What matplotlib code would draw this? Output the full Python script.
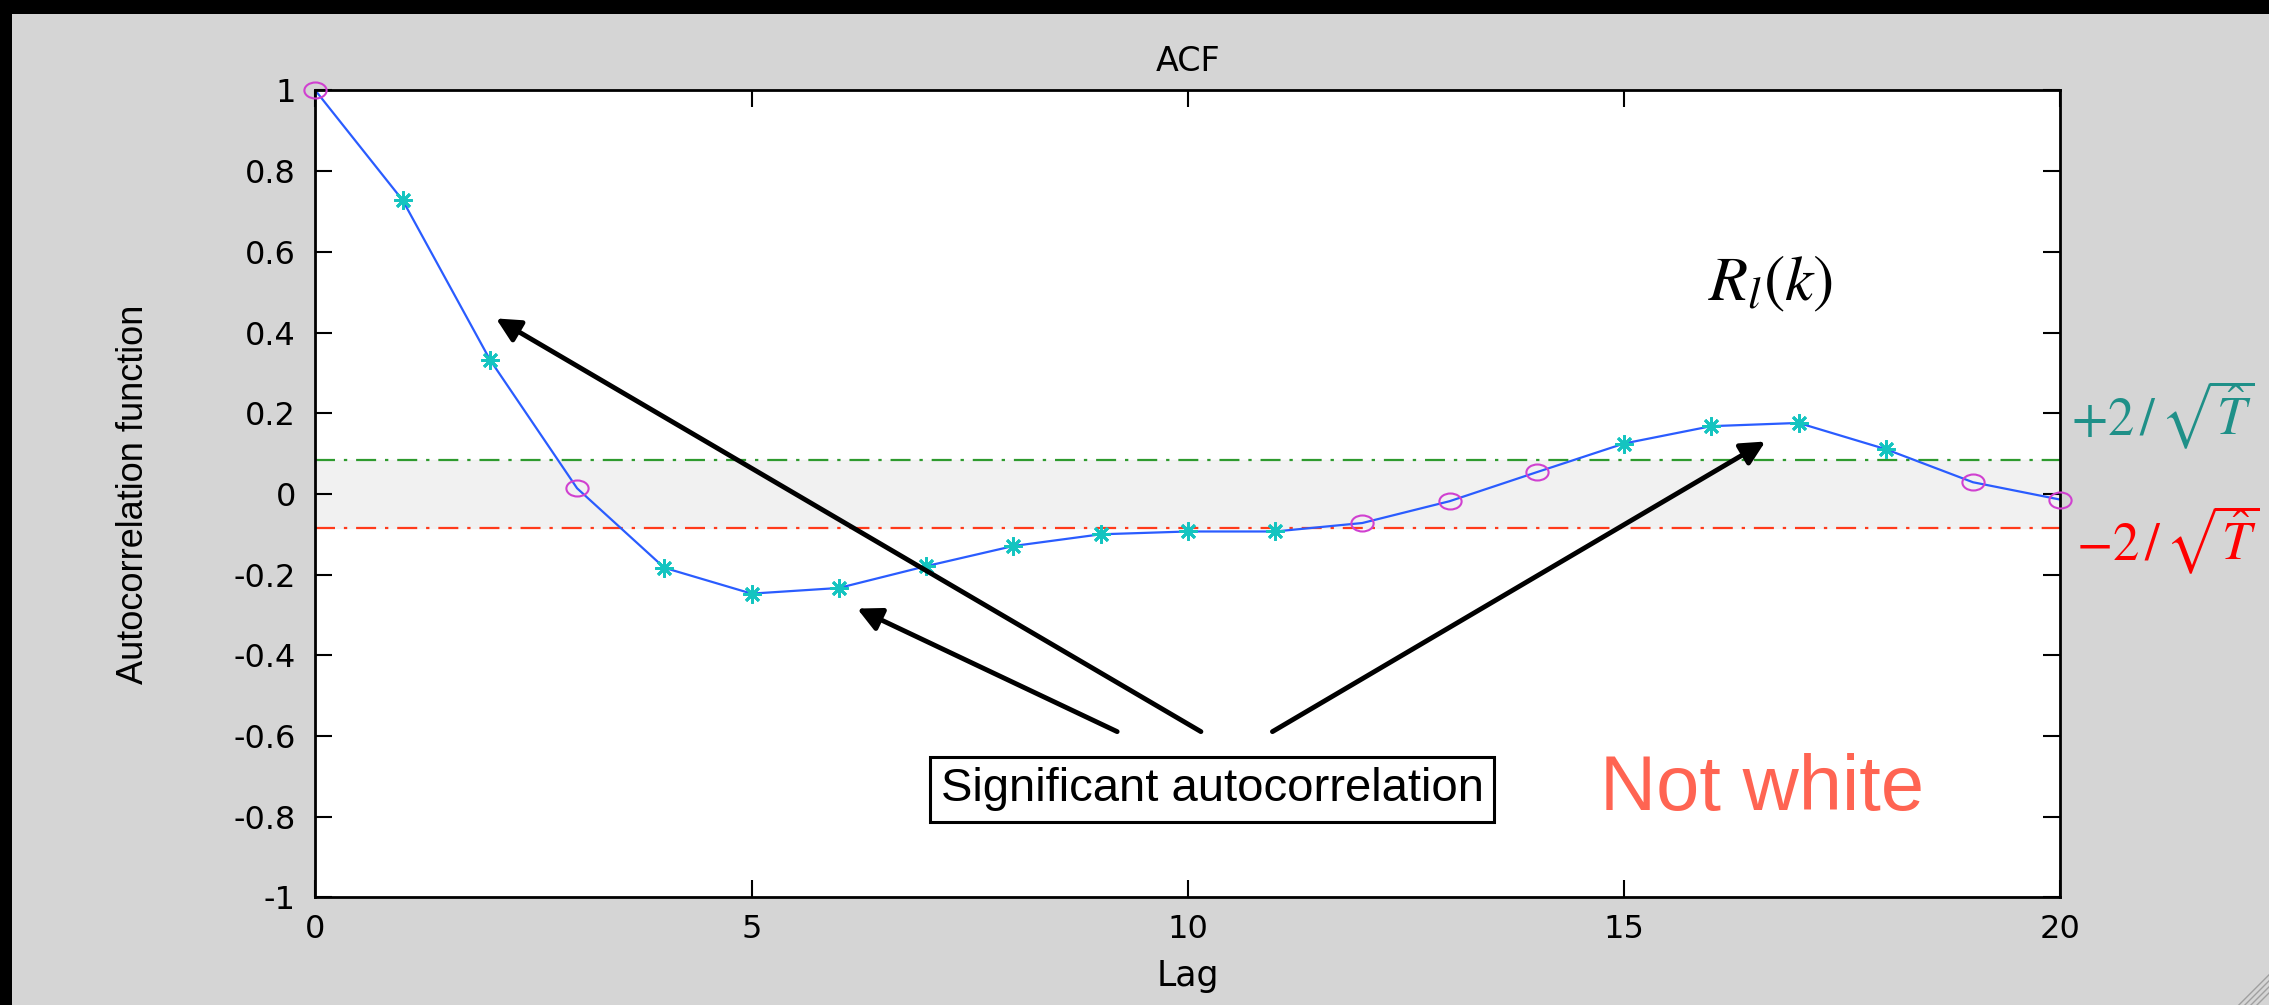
import matplotlib
matplotlib.use("Agg")
import matplotlib.pyplot as plt
from matplotlib.patches import Rectangle
from matplotlib.lines import Line2D
from matplotlib.path import Path
from matplotlib.transforms import Affine2D

plt.rcParams['axes.unicode_minus'] = False
plt.rcParams['mathtext.fontset'] = 'stix'

# data
lags = list(range(21))
acf = [1.0, 0.728, 0.333, 0.014, -0.183, -0.247, -0.233, -0.179, -0.129, -0.100,
       -0.093, -0.093, -0.072, -0.018, 0.054, 0.125, 0.168, 0.176, 0.111, 0.029, -0.014]
bound = 0.085
yticks = [-1, -0.8, -0.6, -0.4, -0.2, 0, 0.2, 0.4, 0.6, 0.8, 1]
ytick_labels = ['-1', '-0.8', '-0.6', '-0.4', '-0.2', '0', '0.2', '0.4', '0.6', '0.8', '1']
xticks = [0, 5, 10, 15, 20]

# arrows: (tail x, tail y, head x, head y) in data units
arrows = [(10.15, -0.589, 2.07, 0.435),
          (9.19, -0.589, 6.21, -0.284),
          (10.97, -0.589, 16.62, 0.130)]

gray = '#d5d5d5'
narrow = ['Liberation Sans', 'DejaVu Sans']

fig = plt.figure(figsize=(22.69, 10.05), dpi=100, facecolor='black')
fig.add_artist(Rectangle((12 / 2269, 0), 1, 1 - 14 / 1005, transform=fig.transFigure,
                         facecolor=gray, edgecolor='none', zorder=-5))
ax = fig.add_axes([0.139, 0.107, 0.769, 0.803])
ax.set_facecolor('white')

# band between the bounds
ax.axhspan(-bound, bound, color='#f1f1f1', zorder=0)
ax.axhline(bound, color='#2e9a2e', lw=1.6, ls=(0, (9, 4, 1.5, 4)), zorder=1)
ax.axhline(-bound, color='#ff3a1a', lw=1.6, ls=(0, (9, 4, 1.5, 4)), zorder=1)

ax.plot(lags, acf, color='#2a5cff', lw=1.6, zorder=2)

ellipse = Path.unit_circle().transformed(Affine2D().scale(1.0, 0.72))
inside = [i for i in lags if abs(acf[i]) < bound or i == 0]
outside = [i for i in lags if i not in inside]
ax.plot([lags[i] for i in inside], [acf[i] for i in inside], ls='none', marker=ellipse,
        ms=16, mfc='none', mec='#d040d0', mew=1.5, zorder=3, clip_on=False)
ax.plot([lags[i] for i in outside], [acf[i] for i in outside], ls='none', marker=(8, 2, 0),
        ms=13, mec='#14c4c0', mew=2.0, zorder=3)

ax.set_xlim(0, 20)
ax.set_ylim(-1, 1)
ax.set_xticks(xticks)
ax.set_yticks(yticks)
ax.set_yticklabels(ytick_labels)
ax.tick_params(direction='in', length=12, width=1.5, top=True, right=True,
               labelsize=23, colors='black')
ax.tick_params(axis='x', pad=12)
ax.tick_params(axis='y', pad=14)
for s in ax.spines.values():
    s.set_linewidth(2)

ax.set_title('ACF', fontsize=24, pad=14)
ax.set_xlabel('Lag', fontsize=25, labelpad=10)
ax.set_ylabel('Autocorrelation function', fontsize=26, family=narrow)
ax.yaxis.set_label_coords(-0.094, 0.5)

for tx, ty, hx, hy in arrows:
    ax.annotate('', xy=(hx, hy), xytext=(tx, ty),
                arrowprops=dict(arrowstyle='-|>', lw=3.5, color='black', mutation_scale=36,
                                shrinkA=0, shrinkB=0), zorder=4)

ax.text(10.28, -0.732, 'Significant autocorrelation', fontsize=34, ha='center', va='center',
        family=narrow, zorder=5,
        bbox=dict(boxstyle='square,pad=0.22', fc='white', ec='black', lw=2.2))
ax.text(14.72, -0.732, 'Not white', fontsize=56, ha='left', va='center', color='#ff6452',
        family=narrow)

ax.text(15.96, 0.524, r'$R_l(k)$', fontsize=46, ha='left', va='center')
fig.text(2071 / 2269, 1 - 415 / 1005, r'$+2\,/\,\sqrt{\hat{T}}$', fontsize=38,
         color='#1f9088', ha='left', va='center')
fig.text(2076 / 2269, 1 - 540 / 1005, r'$-2\,/\,\sqrt{\hat{T}}$', fontsize=38,
         color='#ff0000', ha='left', va='center')

# resize grip in the corner
for k in range(4):
    d = 0.012 + 0.006 * k
    fig.add_artist(Line2D([1 - d * 1005 / 2269, 1], [0, d], transform=fig.transFigure,
                          color='#a0a0a0', lw=1))

fig.savefig('out.png', dpi=100, facecolor=fig.get_facecolor())
